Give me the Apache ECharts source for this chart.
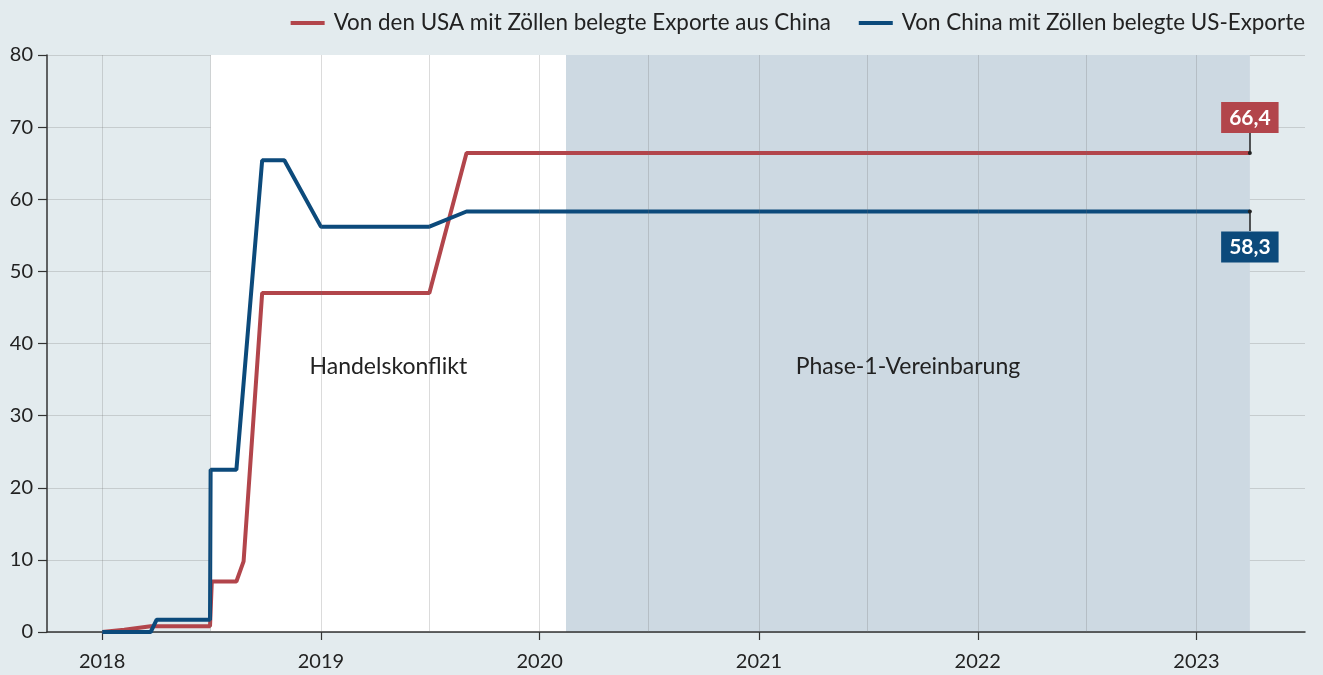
<!DOCTYPE html>
<html>
<head>
<meta charset="utf-8">
<script src="https://cdn.jsdelivr.net/npm/echarts@6/dist/echarts.min.js"></script>
<style>
html,body{margin:0;padding:0;background:#e3ebee;}
#chart{width:1323px;height:675px;}
</style>
</head>
<body>
<div id="chart"></div>
<script>
// ---- data ----
const seriesNames = ['Von den USA mit Zöllen belegte Exporte aus China', 'Von China mit Zöllen belegte US-Exporte'];
const usDates  = ['2018-01-01','2018-02-07','2018-03-23','2018-06-30','2018-07-03','2018-08-13','2018-08-25','2018-09-25','2019-07-01','2019-09-01','2023-03-31'];
const usValues = [0, 0.3, 0.8, 0.8, 7.0, 7.0, 9.8, 47.0, 47.0, 66.4, 66.4];
const cnDates  = ['2018-01-01','2018-03-23','2018-04-02','2018-06-30','2018-07-01','2018-08-13','2018-09-25','2018-11-01','2019-01-01','2019-07-01','2019-09-01','2023-03-31'];
const cnValues = [0, 0, 1.7, 1.7, 22.5, 22.5, 65.4, 65.4, 56.2, 56.2, 58.3, 58.3];
const endLabels = ['66,4', '58,3'];
const phases = [
  {name: 'Handelskonflikt', start: '2018-07-01', end: '2020-02-14', color: '#ffffff'},
  {name: 'Phase-1-Vereinbarung', start: '2020-02-14', end: '2023-03-31', color: '#cdd9e2'}
];
const yearTicks = ['2018-01-01','2019-01-01','2020-01-01','2021-01-01','2022-01-01','2023-01-01'];
const gridDates = ['2018-01-01','2018-07-01','2019-01-01','2019-07-01','2020-01-01','2020-07-01','2021-01-01','2021-07-01','2022-01-01','2022-07-01','2023-01-01'];
const xMin = '2017-10-01', xMax = '2023-07-01';
const yTicks = [0, 10, 20, 30, 40, 50, 60, 70, 80];

const RED = '#b2454b', BLUE = '#0c4a7b';
const FONT = 'Lato';
const ts = d => new Date(d + 'T00:00:00Z').getTime();
const pair = (ds, vs) => ds.map((d, i) => [ts(d), vs[i]]);

const usData = pair(usDates, usValues);
const cnData = pair(cnDates, cnValues);

function endMarks(data, label, color, up) {
  const last = data[data.length - 1];
  const off = up ? 2.8 : -2.7;
  return {
    markPoint: {
      silent: true, animation: false,
      symbol: 'circle', symbolSize: 4,
      itemStyle: {color: '#222'},
      data: [{coord: last, value: label}],
      label: {
        show: true, position: up ? 'top' : 'bottom', distance: 18,
        formatter: label, color: '#fff', fontFamily: FONT, fontWeight: 'bold', fontSize: 21,
        backgroundColor: color, padding: [4, 8, 3, 8], lineHeight: 24
      }
    },
    markLine: {
      silent: true, animation: false, symbol: ['none', 'none'],
      label: {show: false},
      lineStyle: {color: '#222', type: 'solid', width: 1.5},
      emphasis: {disabled: true},
      data: [[{coord: last}, {coord: [last[0], last[1] + off]}]]
    }
  };
}

const chart = echarts.init(document.getElementById('chart'), null, {renderer: 'canvas'});
chart.setOption({
  backgroundColor: '#e3ebee',
  animation: false,
  textStyle: {fontFamily: FONT},
  grid: {left: 47, right: 18, top: 55, bottom: 43, containLabel: false},
  legend: {
    top: 7, right: 13, itemWidth: 34, itemHeight: 4, itemGap: 28, icon: 'rect',
    textStyle: {fontFamily: FONT, fontSize: 22.4, color: '#222', padding: [0, 0, 0, 4]},
    data: seriesNames
  },
  xAxis: {
    type: 'value', min: ts(xMin), max: ts(xMax), z: 1,
    axisLine: {lineStyle: {color: '#333', width: 1.5}},
    axisTick: {show: true, length: 8, lineStyle: {color: '#333', width: 1.2}, customValues: yearTicks.map(ts)},
    axisLabel: {customValues: yearTicks.map(ts), formatter: v => String(new Date(v).getUTCFullYear()), fontSize: 20, color: '#222', margin: 20, fontFamily: FONT},
    splitLine: {show: false}
  },
  yAxis: {
    type: 'value', min: 0, max: 80, interval: 10, z: 1,
    axisLine: {show: true, lineStyle: {color: '#333', width: 1.5}},
    axisTick: {show: true, length: 9, lineStyle: {color: '#333', width: 1.2}},
    axisLabel: {fontSize: 20, color: '#222', margin: 14, fontFamily: FONT, formatter: v => yTicks.includes(v) ? String(v) : ''},
    splitLine: {show: true, lineStyle: {color: 'rgba(110,110,110,0.25)', width: 1}}
  },
  series: [
    {
      name: '_bg', type: 'line', data: [], z: -5, silent: true,
      markArea: {
        silent: true, animation: false,
        data: phases.map(p => [{xAxis: ts(p.start), itemStyle: {color: p.color}, name: p.name}, {xAxis: ts(p.end)}]),
        label: {show: true, position: ['50%', '54%'], align: 'center', verticalAlign: 'middle', color: '#222', fontSize: 23, fontFamily: FONT}
      }
    },
    {
      name: '_grid', type: 'line', data: [], z: -4, silent: true,
      markLine: {
        silent: true, animation: false, symbol: ['none', 'none'], label: {show: false},
        lineStyle: {color: 'rgba(110,110,110,0.25)', type: 'solid', width: 1},
        emphasis: {disabled: true},
        data: gridDates.map(d => ({xAxis: ts(d)}))
      }
    },
    Object.assign({
      name: seriesNames[0], type: 'line', data: usData, showSymbol: false, z: 3,
      lineStyle: {color: RED, width: 4}, itemStyle: {color: RED}
    }, endMarks(usData, endLabels[0], RED, true)),
    Object.assign({
      name: seriesNames[1], type: 'line', data: cnData, showSymbol: false, z: 4,
      lineStyle: {color: BLUE, width: 4}, itemStyle: {color: BLUE}
    }, endMarks(cnData, endLabels[1], BLUE, false))
  ]
});
</script>
</body>
</html>
